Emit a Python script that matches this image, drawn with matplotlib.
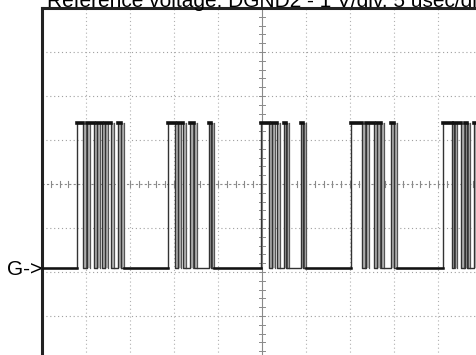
import numpy as np
import matplotlib
matplotlib.use('Agg')
import matplotlib.pyplot as plt

# scope settings
us_per_div = 5.0
n_xdiv = 10
n_ydiv = 8

# signal levels (divisions from centre)
low_level = -1.9
high_level = 1.38

# pulse (rise, fall) times in usec, one list per burst
burst_1 = [(4.02, 4.71), (5.06, 5.86), (6.21, 6.78), (7.13, 7.82), (8.62, 8.97)]
burst_2 = [(14.37, 15.06), (15.40, 15.98), (16.78, 17.24), (18.97, 19.20)]
burst_3 = [(24.94, 25.75), (26.09, 26.67), (27.47, 27.70), (29.43, 29.66)]
burst_4 = [(35.17, 36.32), (36.78, 37.70), (38.05, 38.51), (39.66, 40.00)]
burst_5 = [(45.52, 46.55), (46.78, 47.59), (48.05, 48.28), (49.08, 51.0)]
bursts = [burst_1, burst_2, burst_3, burst_4, burst_5]

jitter = 0.34  # usec spread of the persisted edges

title = 'Reference voltage: DGND2 - 1 V/div. 5 usec/div'

plt.rcParams['font.family'] = ['Liberation Sans', 'DejaVu Sans']

fig = plt.figure(figsize=(4.76, 3.55), dpi=100)
ax = fig.add_axes([42/476, -5/355, 440/476, 352/355])
xmax = us_per_div * n_xdiv
ax.set_xlim(0, xmax)
ax.set_ylim(-n_ydiv/2, n_ydiv/2)
ax.set_xticks([])
ax.set_yticks([])
for s in ['left', 'top']:
    ax.spines[s].set_linewidth(2.2)
    ax.spines[s].set_color('#222222')
for s in ['right', 'bottom']:
    ax.spines[s].set_visible(False)

# graticule
dot = (0, (1, 2.5))
for i in range(1, n_xdiv):
    if i == n_xdiv // 2:
        continue
    ax.axvline(i * us_per_div, color='#b0b0b0', lw=0.8, ls=dot, zorder=1)
for j in range(1, n_ydiv):
    y = -n_ydiv/2 + j
    if y == 0:
        continue
    ax.axhline(y, color='#a0a0a0', lw=0.8, ls=dot, zorder=1)
ax.axvline(xmax/2, color='#8a8a8a', lw=0.8, zorder=1)
ax.axhline(0, color='#8a8a8a', lw=0.8, ls=(0, (2, 2)), zorder=1)
for k in np.arange(-n_ydiv/2, n_ydiv/2 + 0.01, 0.2):
    ax.plot([xmax/2 - 0.35, xmax/2 + 0.35], [k, k], color='#8a8a8a', lw=0.7, zorder=1)
for k in np.arange(0, xmax + 0.01, us_per_div/5):
    ax.plot([k, k], [-0.07, 0.07], color='#8a8a8a', lw=0.8, zorder=1)

# persisted edges (grey bands)
band_lo = (low_level + 4) / 8
band_hi = (high_level + 4) / 8
for b in bursts:
    for n, (r, f) in enumerate(b):
        if n > 0:
            ax.axvspan(r, r + jitter, ymin=band_lo, ymax=band_hi,
                       color='#b8b8b8', lw=0, zorder=2)
            ax.plot([r + jitter, r + jitter], [low_level, high_level], color='#555555', lw=0.9, zorder=3)
        ax.axvspan(f, f + jitter, ymin=band_lo, ymax=band_hi,
                   color='#b8b8b8', lw=0, zorder=2)
        ax.plot([f + jitter, f + jitter], [low_level, high_level], color='#555555', lw=0.9, zorder=3)

# main trace
tx = [0]
ty = [low_level]
for b in bursts:
    for r, f in b:
        tx += [r, r, f, f]
        ty += [low_level, high_level, high_level, low_level]
tx.append(xmax)
ty.append(low_level)
ax.plot(tx, ty, color='#333333', lw=1.0, zorder=4)

# thicker flat levels
for b in bursts:
    for r, f in b:
        ax.plot([r, f], [high_level, high_level], color='#111111', lw=2.6, zorder=5)
prev = 0
for b in bursts:
    ax.plot([prev, b[0][0]], [low_level, low_level], color='#111111', lw=1.8, zorder=5)
    prev = b[-1][1] + jitter
ax.plot([prev, xmax], [low_level, low_level], color='#111111', lw=1.8, zorder=5)

# labels
fig.text(47/476, 1 - 7/355, title, fontsize=15, ha='left', va='baseline')
fig.text(7/476, 1 - 275/355, 'G->', fontsize=15, ha='left', va='baseline')

fig.savefig('out.png', dpi=100)
